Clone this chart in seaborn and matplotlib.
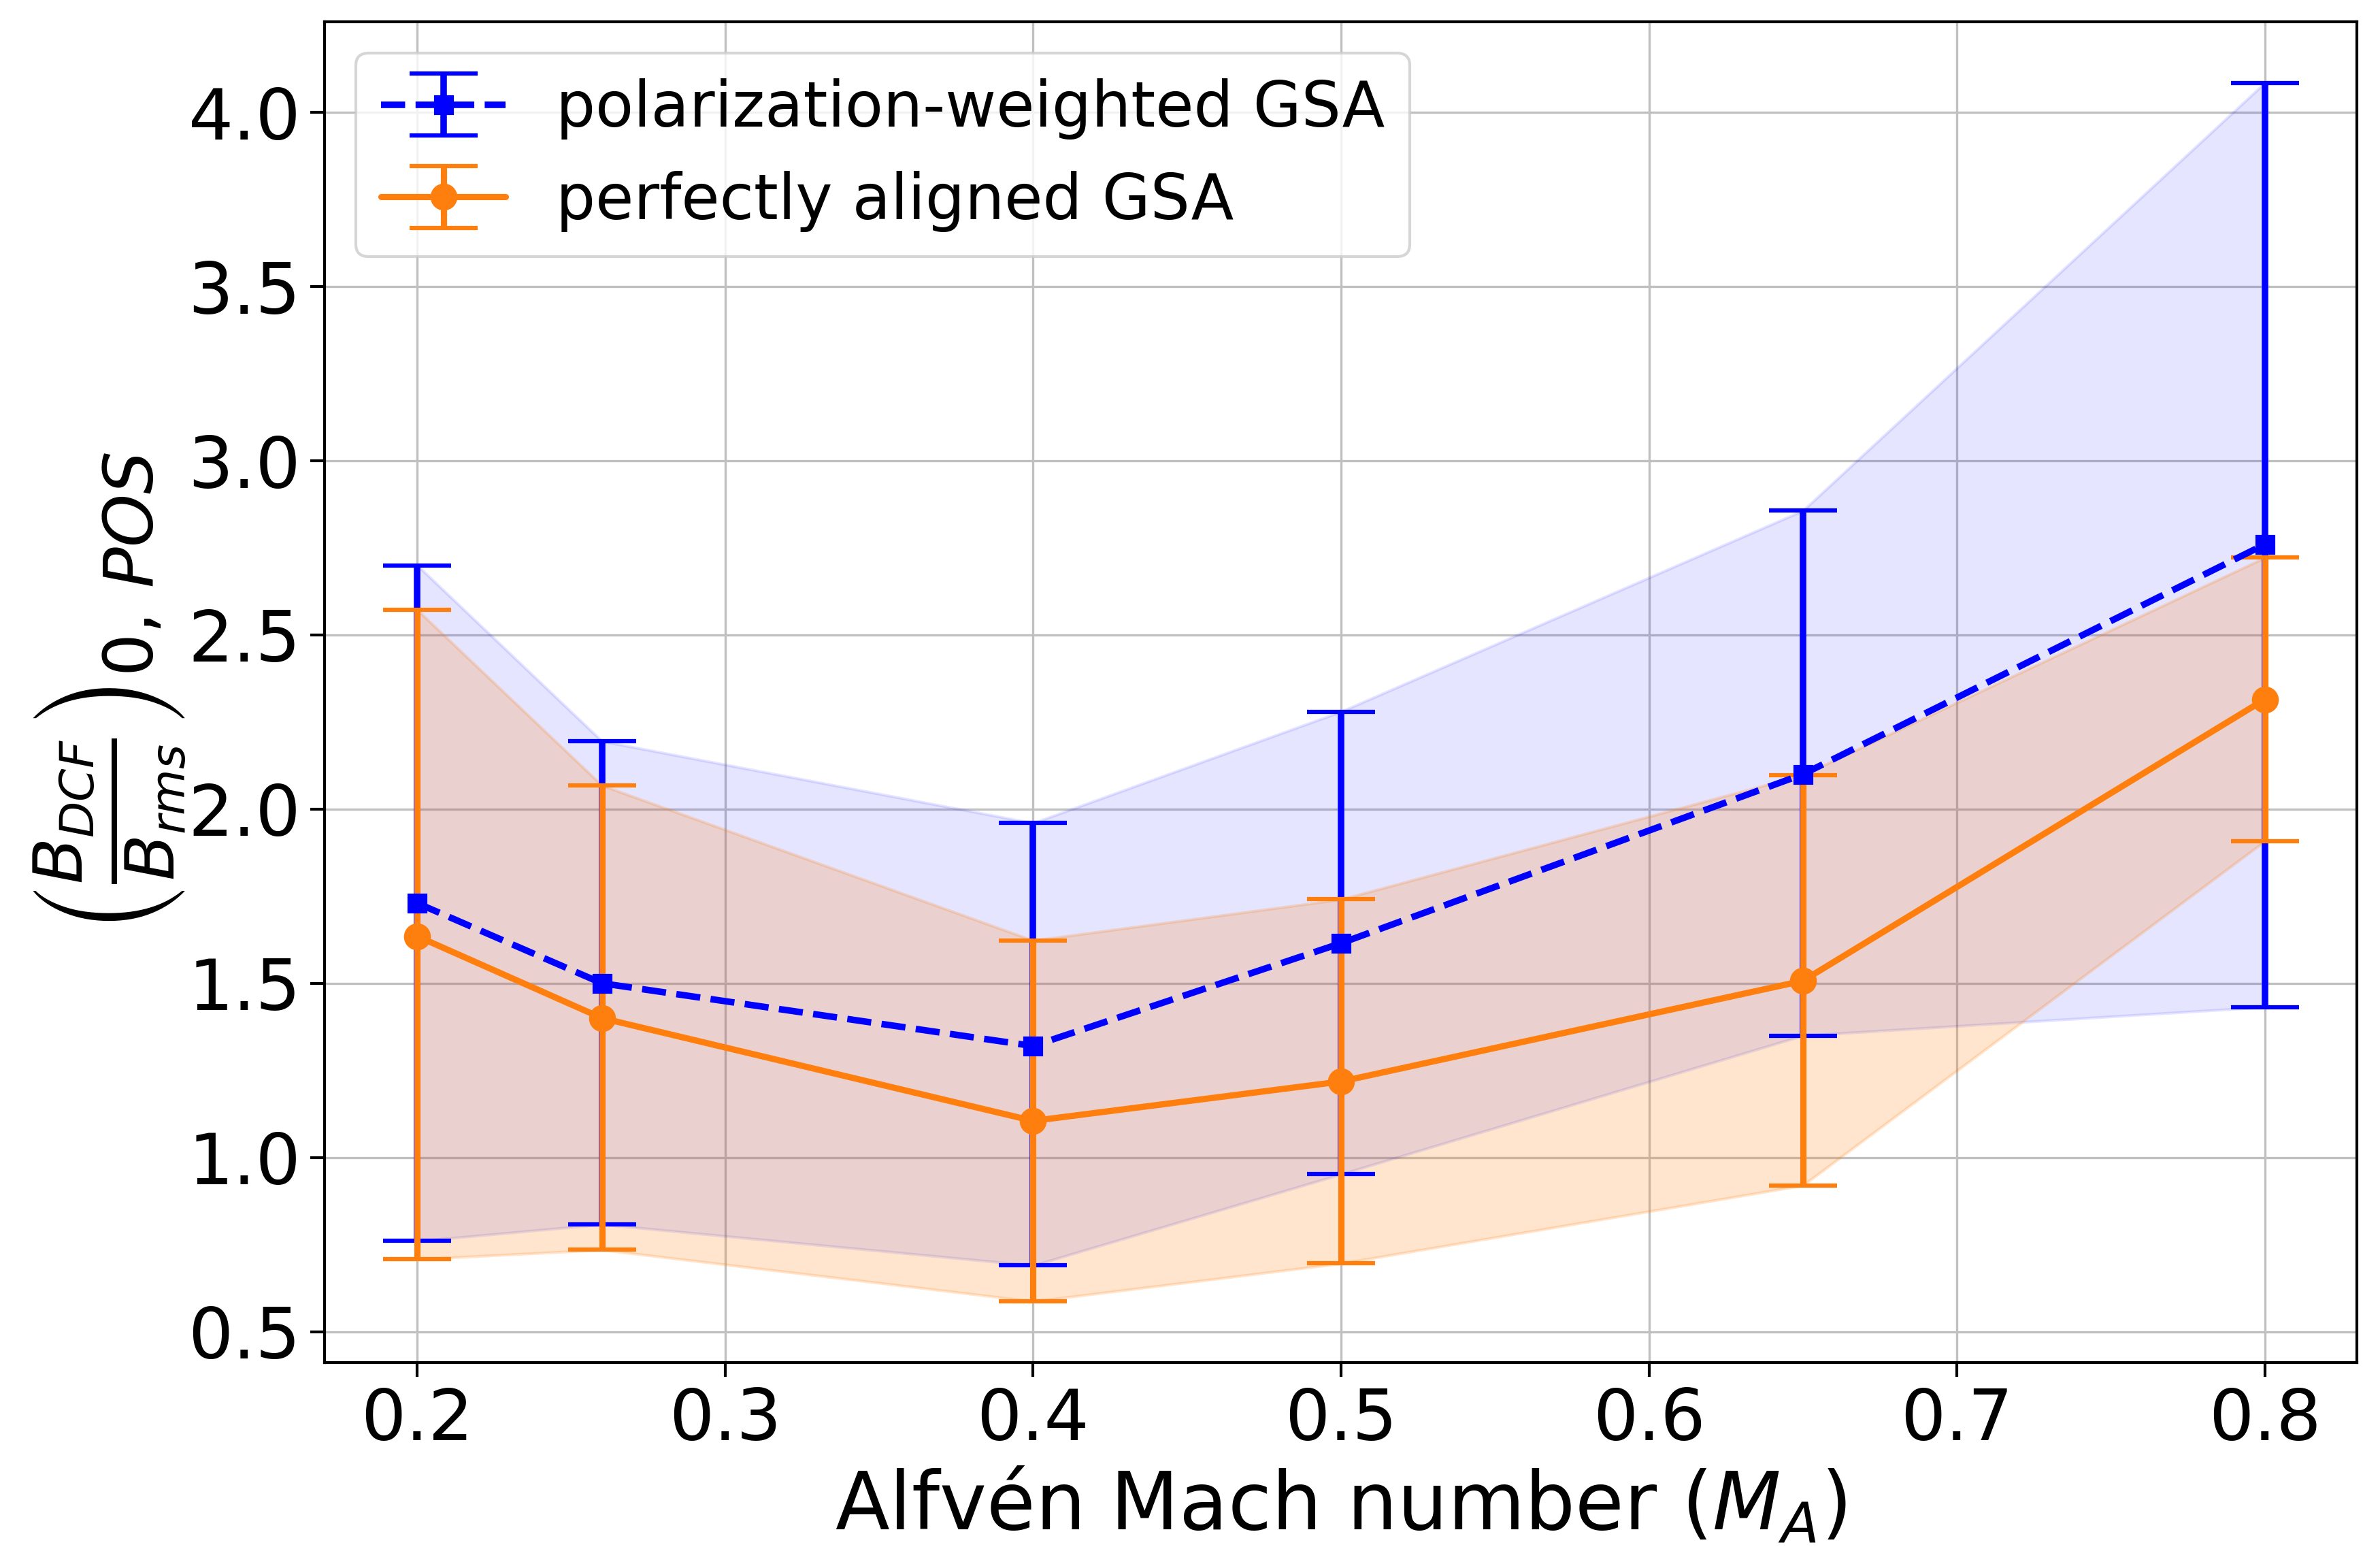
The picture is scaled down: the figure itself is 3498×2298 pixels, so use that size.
import numpy as np
import pandas as pd
import seaborn as sns
import matplotlib.pyplot as plt

sns.set_style("ticks", {"axes.grid": True, "grid.color": "#c0c0c0",
                        "text.color": "black", "axes.labelcolor": "black",
                        "xtick.color": "black", "ytick.color": "black"})
plt.rcParams['font.family'] = ['DejaVu Sans']
plt.rcParams['mathtext.fontset'] = 'dejavusans'

# Alfven Mach number
ma = [0.2, 0.26, 0.4, 0.5, 0.65, 0.8]

# polarization-weighted GSA
pw_mean = [1.73, 1.50, 1.32, 1.615, 2.10, 2.76]
pw_upper = [2.70, 2.195, 1.96, 2.28, 2.857, 4.085]
pw_lower = [0.76, 0.808, 0.69, 0.952, 1.35, 1.432]

# perfectly aligned GSA
pa_mean = [1.635, 1.40, 1.105, 1.218, 1.507, 2.315]
pa_upper = [2.572, 2.068, 1.623, 1.741, 2.098, 2.722]
pa_lower = [0.708, 0.735, 0.587, 0.696, 0.92, 1.908]

df = pd.DataFrame({'ma': ma, 'pw': pw_mean, 'pw_lo': pw_lower, 'pw_hi': pw_upper,
                   'pa': pa_mean, 'pa_lo': pa_lower, 'pa_hi': pa_upper})

fig, ax = plt.subplots(figsize=(11.66, 7.66), dpi=300)
fig.subplots_adjust(left=0.1365, right=0.9904, top=0.986, bottom=0.129)

# blue series
ax.fill_between(df['ma'], df['pw_lo'], df['pw_hi'], color='blue', alpha=0.1)
ax.errorbar(df['ma'], df['pw'],
            yerr=[df['pw'] - df['pw_lo'], df['pw_hi'] - df['pw']],
            fmt='s--', color='blue', markersize=6, linewidth=2.3, elinewidth=2.3,
            capsize=12, capthick=1.5, label='polarization-weighted GSA', zorder=3)

# orange series
ax.fill_between(df['ma'], df['pa_lo'], df['pa_hi'], color='#ff7f0e', alpha=0.2)
ax.errorbar(df['ma'], df['pa'],
            yerr=[df['pa'] - df['pa_lo'], df['pa_hi'] - df['pa']],
            fmt='o-', color='#ff7f0e', markersize=8.5, linewidth=2.2, elinewidth=2.2,
            capsize=12, capthick=1.5, label='perfectly aligned GSA', zorder=3)

sns.despine(ax=ax, top=False, right=False)
for s in ax.spines.values():
    s.set_color('black')
    s.set_linewidth(1)

ax.set_xticks([0.2, 0.3, 0.4, 0.5, 0.6, 0.7, 0.8])
ax.set_yticks([0.5, 1.0, 1.5, 2.0, 2.5, 3.0, 3.5, 4.0])
ax.tick_params(labelsize=25, direction='out', length=5, width=1, color='black',
               labelcolor='black')
ax.set_xlabel(r'Alfvén Mach number ($M_A$)', fontsize=28, color='black')
ax.set_ylabel(r'$\left(\frac{B_{DCF}}{B_{rms}}\right)_{0,\,POS}$', fontsize=34,
              color='black', labelpad=0)
ax.legend(loc='upper left', fontsize=22)

fig.savefig('out.png', dpi=300)
